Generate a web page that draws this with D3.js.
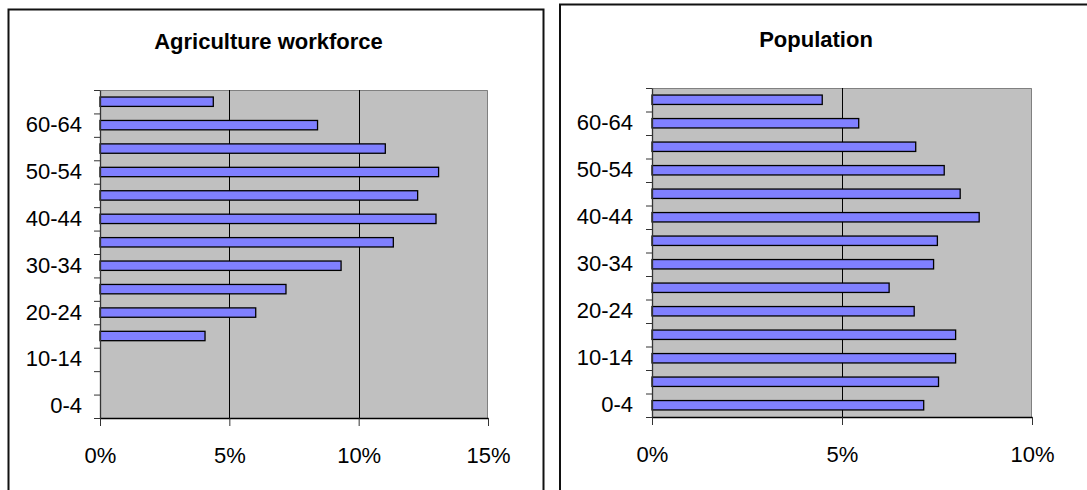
<!DOCTYPE html>
<html>
<head>
<meta charset="utf-8">
<script src="https://cdn.jsdelivr.net/npm/d3@7"></script>
<style>
    body { margin: 0; background: #fff; }
    svg { display: block; font-family: Arial, 'Liberation Sans', sans-serif; }
    .axis text { font-size: 22px; fill: #000; }
    .chart-title { font-size: 22px; font-weight: bold; text-anchor: middle; }
</style>
</head>
<body>
<svg id="chart" width="1087" height="490"></svg>
<script>
// Age groups, bottom to top
const ageGroups = ['0-4', '5-9', '10-14', '15-19', '20-24', '25-29', '30-34',
                   '35-39', '40-44', '45-49', '50-54', '55-59', '60-64', '65-69'];

// Share of agricultural workforce per age group (%)
const agricultureValues = [0, 0, 0, 4.06, 6.02, 7.19, 9.32, 11.34, 12.99, 12.28, 13.09, 11.03, 8.41, 4.38];

// Share of population per age group (%)
const populationValues = [7.15, 7.54, 7.99, 7.99, 6.90, 6.24, 7.41, 7.51, 8.61, 8.11, 7.69, 6.94, 5.44, 4.48];

const agricultureTicks = [0, 5, 10, 15];
const populationTicks = [0, 5, 10];

// only every other age group gets a label
const labelledGroups = ageGroups.filter((d, i) => i % 2 === 0);

class AgeBarChart {
    constructor(_config, _data) {
        this.config = _config;
        this.data = _data;
        this.initVis();
    }

    initVis() {
        let vis = this;
        const c = vis.config;
        const svg = d3.select('#chart');

        // outer frame
        svg.append('rect')
            .attr('x', c.frame.x)
            .attr('y', c.frame.y)
            .attr('width', c.frame.w)
            .attr('height', 600)
            .attr('fill', 'none')
            .attr('stroke', '#111')
            .attr('stroke-width', 2);

        svg.append('text')
            .attr('class', 'chart-title')
            .attr('x', c.titleX)
            .attr('y', c.titleY)
            .text(c.title);

        vis.width = c.right - c.left;
        vis.height = c.bottom - c.top;

        vis.g = svg.append('g')
            .attr('transform', `translate(${c.left},${c.top})`);

        vis.xScale = d3.scaleLinear()
            .domain([0, d3.max(c.ticks)])
            .range([0, vis.width]);

        vis.yScale = d3.scaleBand()
            .domain(ageGroups)
            .range([vis.height, 0])
            .padding(0);

        // band boundaries for the tick marks
        vis.yEdge = d3.scaleLinear()
            .domain([0, ageGroups.length])
            .range([vis.height, 0]);

        vis.renderVis();
    }

    renderVis() {
        let vis = this;
        const c = vis.config;

        // plot background
        vis.g.append('rect')
            .attr('width', vis.width)
            .attr('height', vis.height)
            .attr('fill', '#c0c0c0');

        // top and right plot border
        vis.g.append('path')
            .attr('d', `M0,0.5H${vis.width - 0.5}V${vis.height}`)
            .attr('fill', 'none')
            .attr('stroke', '#808080')
            .attr('stroke-width', 1);

        // vertical gridlines
        vis.g.append('g')
            .selectAll('line')
            .data(c.ticks.filter(t => t > 0 && t < d3.max(c.ticks)))
            .join('line')
                .attr('x1', d => Math.round(vis.xScale(d)) + 0.5)
                .attr('x2', d => Math.round(vis.xScale(d)) + 0.5)
                .attr('y1', 0)
                .attr('y2', vis.height)
                .attr('stroke', '#000')
                .attr('stroke-width', 1);

        // bars
        const barH = vis.yScale.bandwidth() * 0.4;
        vis.g.append('g')
            .selectAll('rect')
            .data(vis.data.filter(d => d.value > 0))
            .join('rect')
                .attr('x', 0)
                .attr('y', d => vis.yScale(d.group) + (vis.yScale.bandwidth() - barH) / 2)
                .attr('width', d => vis.xScale(d.value))
                .attr('height', barH)
                .attr('fill', '#8080ff')
                .attr('stroke', '#000')
                .attr('stroke-width', 1.3);

        // x axis
        const xAxis = d3.axisBottom(vis.xScale)
            .tickValues(c.ticks)
            .tickSize(8)
            .tickSizeOuter(0)
            .tickPadding(21)
            .tickFormat(d => d + '%');

        const xAxisG = vis.g.append('g')
            .attr('class', 'axis x-axis')
            .attr('transform', `translate(0,${vis.height})`)
            .call(xAxis);
        xAxisG.select('.domain').attr('stroke', '#000').attr('stroke-width', 1.3);
        xAxisG.selectAll('.tick line').attr('stroke', '#333');

        // y axis tick marks on band edges
        const yTickAxis = d3.axisLeft(vis.yEdge)
            .tickValues(d3.range(ageGroups.length + 1))
            .tickSize(6)
            .tickSizeOuter(0)
            .tickFormat('');
        const yTickG = vis.g.append('g')
            .attr('class', 'axis y-axis')
            .call(yTickAxis);
        yTickG.select('.domain').attr('stroke', '#333').attr('stroke-width', 1.3);
        yTickG.selectAll('.tick line').attr('stroke', '#333');

        // y axis labels
        const yLabelAxis = d3.axisLeft(vis.yScale)
            .tickValues(labelledGroups)
            .tickSize(0)
            .tickPadding(c.labelPad);
        const yLabelG = vis.g.append('g')
            .attr('class', 'axis y-labels')
            .call(yLabelAxis);
        yLabelG.select('.domain').remove();
    }
}

new AgeBarChart({
    title: 'Agriculture workforce',
    titleX: 268.5, titleY: 49,
    frame: {x: 8.5, y: 9.5, w: 535},
    left: 100, top: 90, right: 488, bottom: 418,
    labelPad: 18,
    ticks: agricultureTicks
}, ageGroups.map((g, i) => ({group: g, value: agricultureValues[i]})));

new AgeBarChart({
    title: 'Population',
    titleX: 816, titleY: 47,
    frame: {x: 560, y: 4.5, w: 600},
    left: 652, top: 88, right: 1032, bottom: 417,
    labelPad: 19,
    ticks: populationTicks
}, ageGroups.map((g, i) => ({group: g, value: populationValues[i]})));
</script>
</body>
</html>
